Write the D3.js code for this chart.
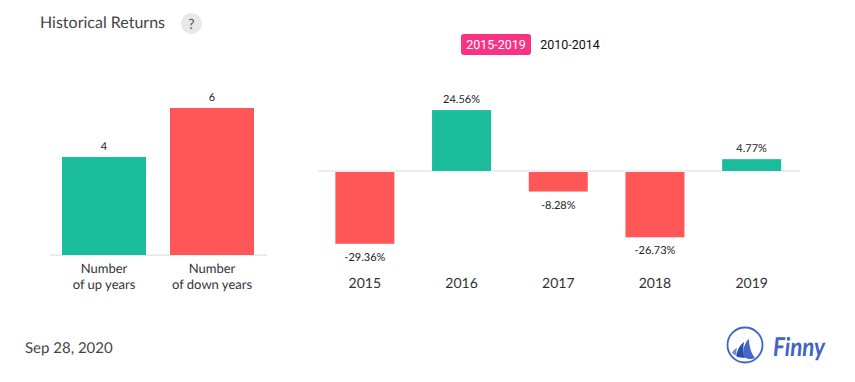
<!DOCTYPE html>
<html><head><meta charset="utf-8">
<script src="https://cdn.jsdelivr.net/npm/d3@7"></script>
<style>html,body{margin:0;padding:0;background:#fff}svg{display:block;opacity:.999}text{font-family:Lato,sans-serif;text-rendering:geometricPrecision}</style>
</head><body><svg id="c" width="855" height="382"></svg>
<script>
const countCategories = ["up","down"];
const countLabels = [["Number","of up years"],["Number","of down years"]];
const countValues = [4,6];
const years = ["2015","2016","2017","2018","2019"];
const returns = [-29.36,24.56,-8.28,-26.73,4.77];
const legendItems = ["2015-2019","2010-2014"];
const GREEN="#1abc9c", RED="#ff5757", GRID="#d8d8d8";
const svg=d3.select("#c");

svg.append("text").attr("x",40).attr("y",28).attr("font-size",16).attr("fill","#444").text("Historical Returns");
svg.append("circle").attr("cx",191.5).attr("cy",23.5).attr("r",10.5).attr("fill","#e8e8e8");
svg.append("text").attr("x",191.5).attr("y",29).attr("text-anchor","middle").attr("font-size",14).attr("fill","#555").text("?");

// legend
svg.append("rect").attr("x",461).attr("y",34).attr("width",70).attr("height",21).attr("rx",3).attr("fill","#f93384");
svg.append("text").attr("x",496).attr("y",49).attr("text-anchor","middle").style("font-family","Roboto").attr("font-size",12.5).attr("fill","#fff").text(legendItems[0]);
svg.append("text").attr("x",570).attr("y",49).attr("text-anchor","middle").style("font-family","Roboto").attr("font-size",12.5).attr("fill","#111").text(legendItems[1]);

// left chart
const x1=d3.scaleBand().domain(countCategories).range([50,266]).paddingInner(24/108).paddingOuter(12/108);
const y1=d3.scaleLinear().domain([0,6]).range([255,108]);
svg.append("line").attr("x1",50).attr("x2",267).attr("y1",255).attr("y2",255).attr("stroke",GRID);
const colors1=[GREEN,RED];
svg.selectAll(".b1").data(countValues).join("rect").attr("class","b1")
  .attr("x",(d,i)=>x1(countCategories[i])).attr("width",x1.bandwidth())
  .attr("y",d=>y1(d)).attr("height",d=>y1(0)-y1(d)).attr("fill",(d,i)=>colors1[i]);
svg.selectAll(".l1").data(countValues).join("text").attr("class","l1")
  .attr("x",(d,i)=>x1(countCategories[i])+x1.bandwidth()/2).attr("y",d=>y1(d)-7)
  .attr("text-anchor","middle").attr("font-size",11).attr("fill","#222").text(d=>d);
countLabels.forEach((ls,i)=>ls.forEach((s,j)=>{
  svg.append("text").attr("x",x1(countCategories[i])+x1.bandwidth()/2).attr("y",273+j*16)
   .attr("text-anchor","middle").attr("font-size",13).attr("fill","#333").text(s);
}));

// right chart
const x2=d3.scaleBand().domain(years).range([316.5,800]).paddingInner(0.39).paddingOuter(0.195);
const y2=d3.scaleLinear().domain([-29.36,24.56]).range([243.8,110.1]);
svg.append("line").attr("x1",318).attr("x2",800).attr("y1",y2(0)).attr("y2",y2(0)).attr("stroke",GRID);
svg.selectAll(".b2").data(returns).join("rect").attr("class","b2")
  .attr("x",(d,i)=>x2(years[i])).attr("width",x2.bandwidth())
  .attr("y",d=>d>0?y2(d):y2(0)+1).attr("height",d=>Math.abs(y2(d)-y2(0))-(d>0?0:1))
  .attr("fill",d=>d>0?GREEN:RED).attr("stroke","#fff").attr("stroke-width",1).attr("paint-order","stroke");
svg.selectAll(".l2").data(returns).join("text").attr("class","l2")
  .attr("x",(d,i)=>x2(years[i])+x2.bandwidth()/2)
  .attr("y",d=>d>0?y2(d)-7:y2(d)+17)
  .attr("text-anchor","middle").attr("font-size",11).attr("fill","#222").text(d=>d.toFixed(2)+"%");
const ax=d3.axisBottom(x2).tickSize(0).tickPadding(0);
const g=svg.append("g").attr("transform","translate(0,278.5)").call(ax);
g.select(".domain").remove();
g.selectAll("text").style("font-family","Lato").attr("font-size",14).attr("fill","#333").attr("dy",".71em");

// footer
svg.append("text").attr("x",25).attr("y",353).attr("font-size",15).attr("fill","#444").text("Sep 28, 2020");

// logo
const logo=svg.append("g").attr("transform","translate(745,345)");
logo.append("circle").attr("r",17.5).attr("fill","none").attr("stroke","#3f63c8").attr("stroke-width",1.8);
logo.append("path").attr("d","M-13,8 C-12,6 -11,4 -8,3 C-9,6 -9,9 -7,12 Z").attr("fill","#6f8bd8");
logo.append("path").attr("d","M-8,12 C-9,6 -5,0 -1,-3 C-2,3 -2,8 0,13 Z").attr("fill","#2a4db0");
logo.append("path").attr("d","M-1,12 C-3,5 0,-3 4,-6 C4,1 6,8 10,13 C6,15 2,14 -1,12 Z").attr("fill","#4468c8");
svg.append("text").attr("x",773).attr("y",356).style("font-family","Lato").attr("font-style","italic").attr("font-weight","bold").attr("font-size",26).attr("textLength",52).attr("lengthAdjust","spacingAndGlyphs").attr("fill","#3f63c8").text("Finny");
</script></body></html>
